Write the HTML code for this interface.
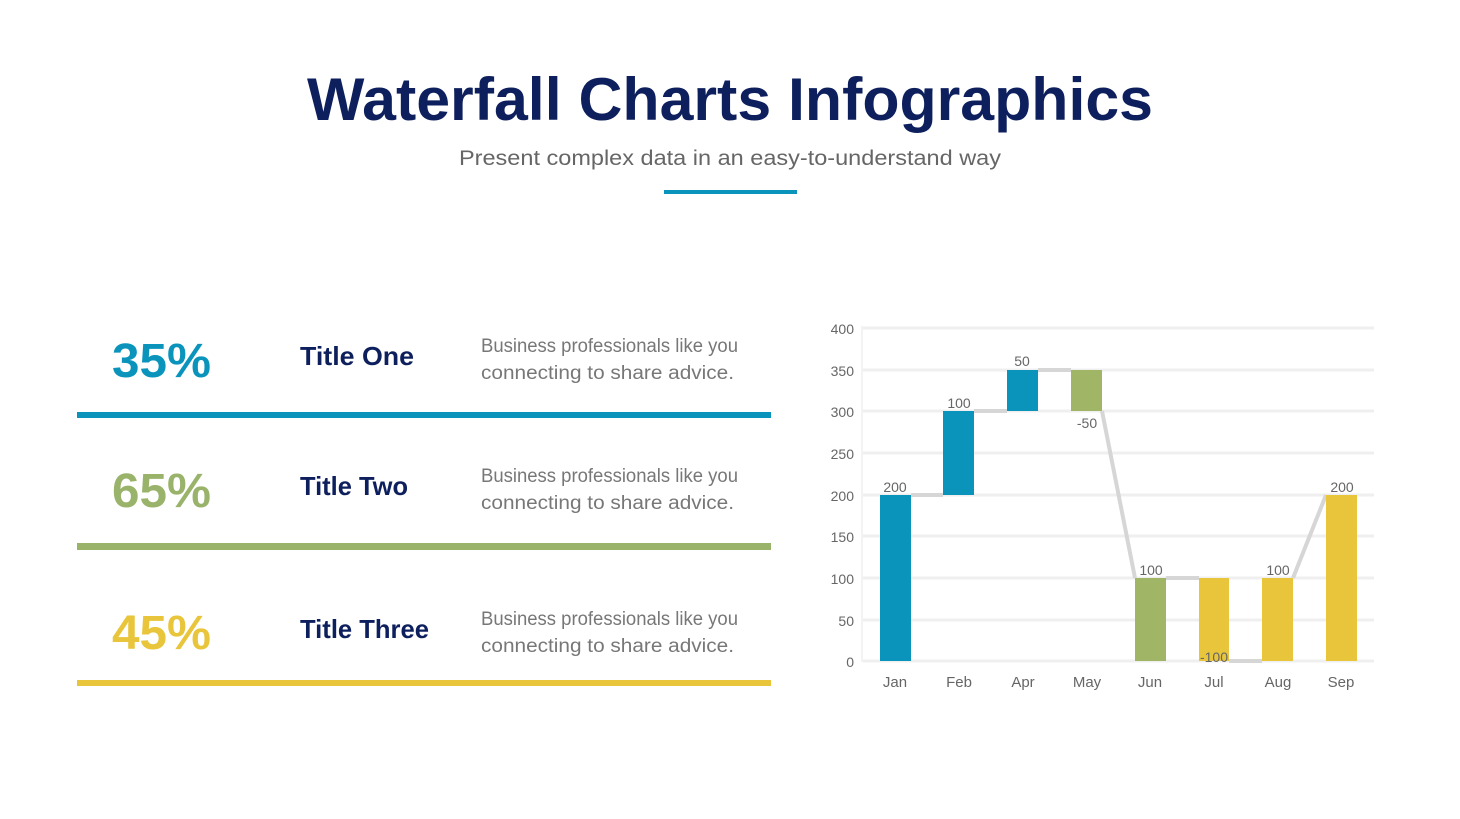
<!DOCTYPE html>
<html><head><meta charset="utf-8"><style>
html,body{margin:0;padding:0;background:#fff;}
svg{display:block;font-family:"Liberation Sans",sans-serif;}
</style></head><body>
<svg width="1460" height="819" viewBox="0 0 1460 819" xmlns="http://www.w3.org/2000/svg">
<text x="730" y="120" text-anchor="middle" font-size="60" font-weight="bold" fill="#0d1f5c" textLength="846" lengthAdjust="spacingAndGlyphs">Waterfall Charts Infographics</text>
<text x="730" y="165" text-anchor="middle" font-size="21" fill="#666" textLength="542" lengthAdjust="spacingAndGlyphs">Present complex data in an easy-to-understand way</text>
<rect x="664" y="190" width="133" height="4" fill="#0a94bc"/>

<g font-weight="bold">
<text x="112" y="377" font-size="48" fill="#0a94bc" textLength="99" lengthAdjust="spacingAndGlyphs">35%</text>
<text x="112" y="507" font-size="48" fill="#9ab36a" textLength="99" lengthAdjust="spacingAndGlyphs">65%</text>
<text x="112" y="649" font-size="48" fill="#e8c53a" textLength="99" lengthAdjust="spacingAndGlyphs">45%</text>
<text x="300" y="365" font-size="26" fill="#0d1f5c" textLength="114" lengthAdjust="spacingAndGlyphs">Title One</text>
<text x="300" y="495" font-size="26" fill="#0d1f5c" textLength="108" lengthAdjust="spacingAndGlyphs">Title Two</text>
<text x="300" y="638" font-size="26" fill="#0d1f5c" textLength="129" lengthAdjust="spacingAndGlyphs">Title Three</text>
</g>
<g font-size="19" fill="#777">
<text x="481" y="352" textLength="257" lengthAdjust="spacingAndGlyphs">Business professionals like you</text>
<text x="481" y="379" textLength="253" lengthAdjust="spacingAndGlyphs">connecting to share advice.</text>
<text x="481" y="482" textLength="257" lengthAdjust="spacingAndGlyphs">Business professionals like you</text>
<text x="481" y="509" textLength="253" lengthAdjust="spacingAndGlyphs">connecting to share advice.</text>
<text x="481" y="625" textLength="257" lengthAdjust="spacingAndGlyphs">Business professionals like you</text>
<text x="481" y="652" textLength="253" lengthAdjust="spacingAndGlyphs">connecting to share advice.</text>
</g>
<rect x="77" y="412" width="694" height="6" fill="#0a94bc"/>
<rect x="77" y="543" width="694" height="7" fill="#9ab36a"/>
<rect x="77" y="680" width="694" height="6" fill="#e8c53a"/>

<g stroke="#efefef" stroke-width="3">
<line x1="863" y1="328" x2="1374" y2="328"/>
<line x1="863" y1="370" x2="1374" y2="370"/>
<line x1="863" y1="411" x2="1374" y2="411"/>
<line x1="863" y1="453" x2="1374" y2="453"/>
<line x1="863" y1="495" x2="1374" y2="495"/>
<line x1="863" y1="536" x2="1374" y2="536"/>
<line x1="863" y1="578" x2="1374" y2="578"/>
<line x1="863" y1="620" x2="1374" y2="620"/>
<line x1="863" y1="661" x2="1374" y2="661"/>
<line x1="862" y1="326" x2="862" y2="662" stroke-width="1.5"/>
</g>
<g font-size="14" fill="#666" text-anchor="end">
<text x="854" y="334">400</text><text x="854" y="376">350</text><text x="854" y="417">300</text>
<text x="854" y="459">250</text><text x="854" y="501">200</text><text x="854" y="542">150</text>
<text x="854" y="584">100</text><text x="854" y="626">50</text><text x="854" y="667">0</text>
</g>
<g stroke="#d6d6d6" stroke-width="4" fill="none">
<line x1="911" y1="495" x2="943" y2="495"/>
<line x1="974" y1="411" x2="1007" y2="411"/>
<line x1="1038" y1="370" x2="1071" y2="370"/>
<line x1="1102" y1="411" x2="1135" y2="578"/>
<line x1="1166" y1="578" x2="1199" y2="578"/>
<line x1="1229" y1="661" x2="1262" y2="661"/>
<line x1="1293" y1="578" x2="1326" y2="495"/>
</g>
<rect x="880" y="495" width="31" height="166" fill="#0a94bc"/>
<rect x="943" y="411" width="31" height="84" fill="#0a94bc"/>
<rect x="1007" y="370" width="31" height="41" fill="#0a94bc"/>
<rect x="1071" y="370" width="31" height="41" fill="#a0b566"/>
<rect x="1135" y="578" width="31" height="83" fill="#a0b566"/>
<rect x="1199" y="578" width="30" height="83" fill="#e8c53a"/>
<rect x="1262" y="578" width="31" height="83" fill="#e8c53a"/>
<rect x="1326" y="495" width="31" height="166" fill="#e8c53a"/>
<g font-size="14" fill="#666" text-anchor="middle">
<text x="895" y="492">200</text><text x="959" y="408">100</text><text x="1022" y="366">50</text>
<text x="1087" y="428">-50</text><text x="1151" y="575">100</text><text x="1214" y="662">-100</text>
<text x="1278" y="575">100</text><text x="1342" y="492">200</text>
</g>
<g font-size="15" fill="#666" text-anchor="middle">
<text x="895" y="687">Jan</text><text x="959" y="687">Feb</text><text x="1023" y="687">Apr</text>
<text x="1087" y="687">May</text><text x="1150" y="687">Jun</text><text x="1214" y="687">Jul</text>
<text x="1278" y="687">Aug</text><text x="1341" y="687">Sep</text>
</g>
</svg>
</body></html>
